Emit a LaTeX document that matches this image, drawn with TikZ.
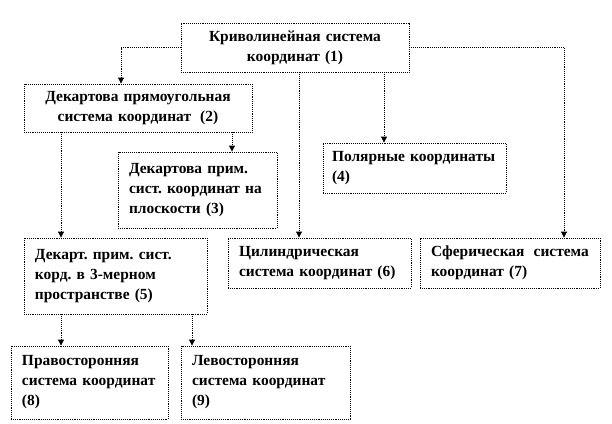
\documentclass[tikz,border=0pt]{standalone}
\usepackage{fontspec}
\setmainfont{Liberation Serif}
\usetikzlibrary{arrows.meta}
\begin{document}
\frenchspacing
\begin{tikzpicture}[x=1bp,y=-1bp,
  box/.style={draw=black, line width=0.9bp, densely dotted, inner xsep=11bp, inner ysep=0bp,
    font=\bfseries\fontsize{15.5}{20}\selectfont\frenchspacing, align=left},
  cbox/.style={box, align=center},
  conn/.style={draw=black, line width=0.9bp, densely dotted,
    -{Triangle[width=6bp,length=6bp]}}]
\useasboundingbox (0,0) rectangle (612,423);
\node[cbox, text width=206bp, minimum height=49bp] (n1) at (295,47.5) {Криволинейная~система\\координат~(1)};
\node[cbox, text width=206bp, minimum height=48bp] (n2) at (138,108) {Декартова~прямоугольная\\система~координат\hspace{4bp}~(2)};
\node[box, text width=137bp, minimum height=76bp, inner xsep=11bp] (n3) at (197.5,190) {Декартова~прим.\\сист.~координат~на\\плоскости~(3)};
\node[box, text width=165bp, minimum height=50bp, inner xsep=9bp] (n4) at (414.5,168) {Полярные~координаты\\(4)};
\node[box, text width=161bp, minimum height=76bp] (n5) at (115.5,276) {Декарт.~прим.~сист.\\корд.~в~3-мерном\\пространстве~(5)};
\node[box, text width=161bp, minimum height=50bp] (n6) at (319.5,263) {Цилиндрическая\\система~координат~(6)};
\node[box, text width=158bp, minimum height=50bp] (n7) at (510,263) {Сферическая\hspace{4bp}~система\\координат~(7)};
\node[box, text width=135bp, minimum height=73bp] (n8) at (89.5,382.5) {Правосторонняя\\система~координат\\(8)};
\node[box, text width=147bp, minimum height=73bp] (n9) at (265.5,382.5) {Левосторонняя\\система~координат\\(9)};
\draw[conn] (n1.west) -| ([xshift=-17bp]n2.north);
\draw[conn] (n1.east) -| ([xshift=54bp]n7.north);
\draw[conn] ([xshift=4bp]n1.south) -- ([xshift=4bp]n1.south |- n6.north);
\draw[conn] ([xshift=89bp]n1.south) -- ([xshift=89bp]n1.south |- n4.north);
\draw[conn] ([xshift=-77bp]n2.south) -- ([xshift=-77bp]n2.south |- n5.north);
\draw[conn] ([xshift=94bp]n2.south) -- ([xshift=94bp]n2.south |- n3.north);
\draw[conn] ([xshift=-54.5bp]n5.south) -- ([xshift=-54.5bp]n5.south |- n8.north);
\draw[conn] ([xshift=76.5bp]n5.south) -- ([xshift=76.5bp]n5.south |- n9.north);
\end{tikzpicture}
\end{document}
